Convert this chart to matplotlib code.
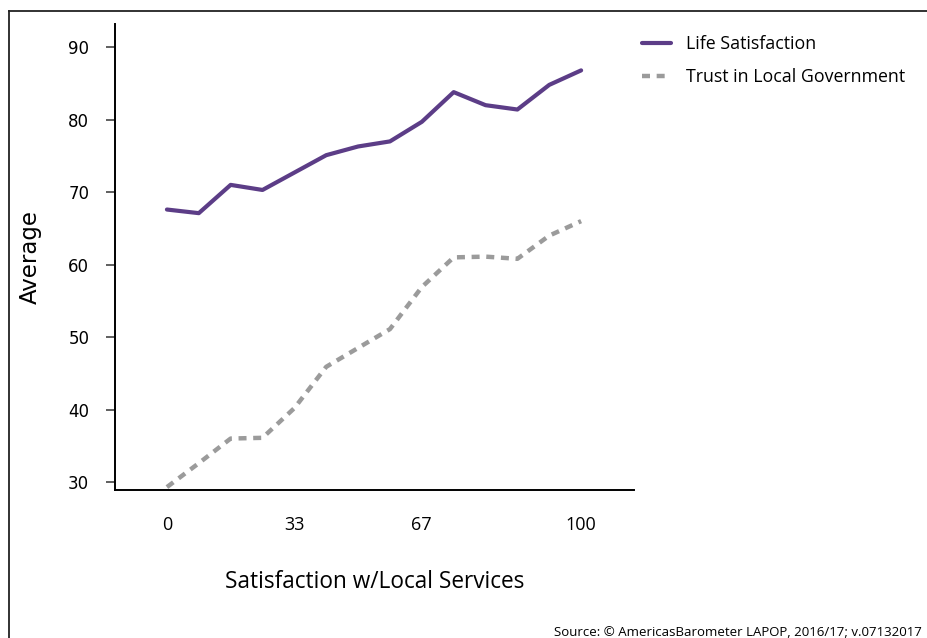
import matplotlib.pyplot as plt
from matplotlib.lines import Line2D

# values (14 equally spaced groups, 0..100)
positions = list(range(14))
tick_positions = [0, 4, 8, 13]
tick_labels = ['0', '33', '67', '100']
life_satisfaction = [67.6, 67.1, 71.0, 70.3, 72.7, 75.1, 76.3, 77.0, 79.7, 83.8, 82.0, 81.4, 84.8, 86.8]
trust_local_gov = [29.3, 32.6, 36.0, 36.1, 40.2, 45.9, 48.5, 51.1, 56.9, 61.0, 61.1, 60.8, 64.0, 66.0]

W, H = 928, 638
fig = plt.figure(figsize=(W / 100, H / 100), dpi=100)
ax = fig.add_axes([115 / W, (H - 490) / H, (634 - 115) / W, (490 - 24) / H])

ax.plot(positions, life_satisfaction, color='#5c3d87', linewidth=3.0,
        solid_capstyle='round', solid_joinstyle='round', label='Life Satisfaction')
ax.plot(positions, trust_local_gov, color='#9b9b9b', linewidth=3.2,
        linestyle=(0, (1.8, 1.5)), label='Trust in Local Government')

ax.set_xlim(-1.63, 14.66)
ax.set_ylim(28.9, 93.2)
ax.set_yticks([30, 40, 50, 60, 70, 80, 90])
ax.set_xticks(tick_positions)
ax.set_xticklabels(tick_labels, family='Open Sans', fontsize=13)
ax.tick_params(axis='x', length=0, pad=19)
ax.tick_params(axis='y', length=6.5, width=1.2, color='#444444', pad=12, labelsize=12)

for side in ['top', 'right']:
    ax.spines[side].set_visible(False)
for side in ['left', 'bottom']:
    ax.spines[side].set_linewidth(1.4)
    ax.spines[side].set_color('black')

ax.set_xlabel('Satisfaction w/Local Services', family='Open Sans', fontsize=16.3, labelpad=26)
ax.set_ylabel('Average', fontsize=16.5, labelpad=19)

fig.legend(loc='upper left', bbox_to_anchor=(642 / W, (H - 35) / H), frameon=False,
           prop={'family': 'Open Sans', 'size': 12.8}, handlelength=1.65,
           handletextpad=0.85, labelspacing=0.85, borderpad=0, borderaxespad=0)

# page border (left and top edges visible)
fig.add_artist(Line2D([9.5 / W, 9.5 / W], [0, (H - 11) / H], color='#222222', linewidth=1.3))
fig.add_artist(Line2D([9.5 / W, 1], [(H - 11) / H, (H - 11) / H], color='#222222', linewidth=1.3))

fig.text(922 / W, 2 / H, 'Source: \u00a9 AmericasBarometer LAPOP, 2016/17; v.07132017',
         family='Open Sans', fontsize=9.5, ha='right', va='baseline')

fig.savefig('out.png', dpi=100)
